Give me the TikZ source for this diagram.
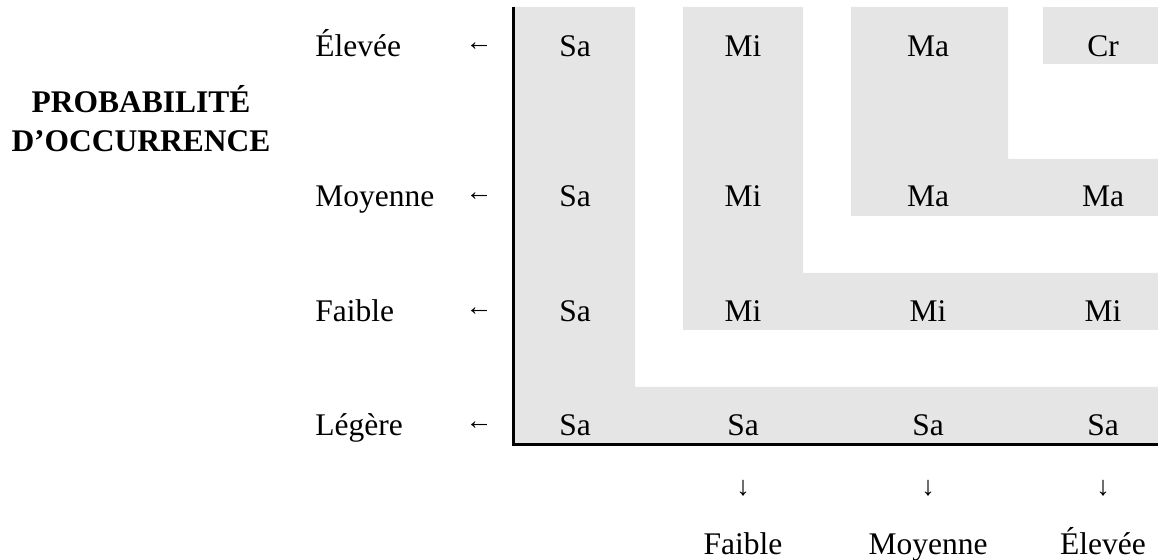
\documentclass[tikz,border=0pt]{standalone}
\usepackage{fontspec}
\setmainfont{Liberation Serif}
\definecolor{cellgray}{RGB}{229,229,229}
\newcommand{\bodysize}{\fontsize{15.75}{19.5}\selectfont}
\tikzset{
  cell/.style={anchor=base,inner sep=0pt},
  rowlab/.style={anchor=base west,inner sep=0pt},
  title/.style={anchor=base,inner sep=0pt,font=\bodysize\bfseries},
  tip/.style={inner sep=0pt,font=\fontsize{13.5}{15}\selectfont},
  zone/.style={fill=cellgray,draw=none},
  axis/.style={line width=1.5pt}
}
\begin{document}
\begin{tikzpicture}[x=0.5pt,y=-0.5pt,font=\bodysize]
  \useasboundingbox (0,0) rectangle (1158,560);
  \fill[zone] (513,7) -- (635,7) -- (635,387) -- (1158,387) -- (1158,445) -- (513,445) -- cycle;
  \fill[zone] (683,7) -- (803,7) -- (803,273) -- (1158,273) -- (1158,330) -- (683,330) -- cycle;
  \fill[zone] (851,7) -- (1008,7) -- (1008,159) -- (1158,159) -- (1158,216) -- (851,216) -- cycle;
  \fill[zone] (1043,7) rectangle (1158,64);
  \draw[axis] (513,7) |- (1158,445);
  \node[title] (title1) at (141,113) {PROBABILITÉ};
  \node[title] (title2) at (141,152) {D’OCCURRENCE};
  \foreach \y/\r/\lab/\cells in {57/1/Élevée/{Sa,Mi,Ma,Cr},207/2/Moyenne/{Sa,Mi,Ma,Ma},
      322/3/Faible/{Sa,Mi,Mi,Mi},436/4/Légère/{Sa,Sa,Sa,Sa}}{
    \node[rowlab] (row\r) at (315,\y) {\lab};
    \node[tip] (left\r) at (479,\y-10) {←};
    \foreach \c [count=\i] in \cells{
      \pgfmathsetmacro{\x}{{575,743,928,1103}[\i-1]}
      \node[cell] (cell\r\i) at (\x,\y) {\c};
    }
  }
  \foreach \x/\k/\lab in {743/1/Faible,928/2/Moyenne,1103/3/Élevée}{
    \node[tip] (down\k) at (\x,488) {↓};
    \node[cell] (sev\k) at (\x,555) {\lab};
  }
\end{tikzpicture}
\end{document}
